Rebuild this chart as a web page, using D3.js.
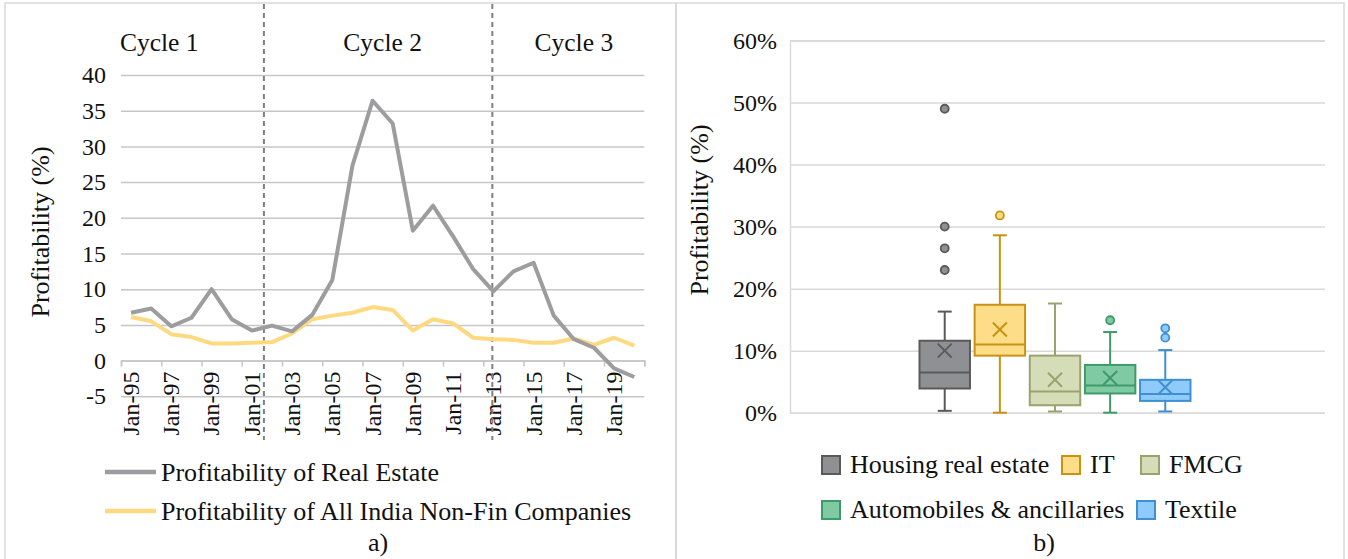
<html>
<head>
<script src="https://cdn.jsdelivr.net/npm/d3@7"></script>
</head>
<body style="margin:0">
<svg id="chart" width="1348" height="559"></svg>
<script>
// ---- data: panel a) line chart ----
const years = [1995,1996,1997,1998,1999,2000,2001,2002,2003,2004,2005,2006,2007,
               2008,2009,2010,2011,2012,2013,2014,2015,2016,2017,2018,2019,2020]
const realEstate = [6.7,7.3,4.8,6.0,10.0,5.8,4.2,4.9,4.1,6.4,11.3,27.3,36.4,
                    33.2,18.2,21.7,17.4,12.8,9.7,12.5,13.7,6.3,3.0,1.8,-1.1,-2.3]
const nonFin = [6.1,5.5,3.7,3.3,2.4,2.4,2.5,2.6,3.8,5.8,6.3,6.7,7.5,
                7.1,4.2,5.8,5.2,3.2,3.0,2.9,2.5,2.5,3.1,2.2,3.2,2.1]
const lineNames = ["Profitability of Real Estate", "Profitability of All India Non-Fin Companies"]
const yTicksA = [-5,0,5,10,15,20,25,30,35,40]
const cycleNames = ["Cycle 1", "Cycle 2", "Cycle 3"]
const cycleLabelAt = [1996.4, 2007.5, 2017.0]
const cycleBreaks = [2001.6, 2012.95]

// ---- data: panel b) box plot ----
const sectors = ["Housing real estate", "IT", "FMCG", "Automobiles & ancillaries", "Textile"]
const whiskerLow  = [0.003, 0.000, 0.002, 0.000, 0.002]
const q1          = [0.039, 0.092, 0.012, 0.031, 0.019]
const median      = [0.065, 0.110, 0.034, 0.044, 0.030]
const q3          = [0.116, 0.174, 0.092, 0.077, 0.053]
const whiskerHigh = [0.163, 0.286, 0.176, 0.130, 0.101]
const means       = [0.100, 0.134, 0.053, 0.056, 0.041]
const outliers    = [[0.490, 0.300, 0.265, 0.230], [0.318], [], [0.149], [0.136, 0.121]]
const yTicksB = [0, 0.1, 0.2, 0.3, 0.4, 0.5, 0.6]

const FILL   = ["#8f9094", "#fedd89", "#d5dcb8", "#7fcaa2", "#8ecbfa"]
const STROKE = ["#5a5a5a", "#c99212", "#9ba26d", "#3f9a6b", "#3f90d2"]
const LINE_COLORS = ["#9d9d9f", "#ffd97f"]

const svg = d3.select("#chart")

// serif face + size for a text selection
function serif(sel, size){
    sel.style("font-family", '"Liberation Serif"').style("font-size", size + "px").attr("fill", "#111")
}

// frame
svg.append("rect").attr("x", 5).attr("y", 3).attr("width", 1339).attr("height", 570)
   .attr("fill", "#fff").attr("stroke", "#d9d9d9").attr("stroke-width", 1.5)
svg.append("line").attr("x1", 676).attr("x2", 676).attr("y1", 3).attr("y2", 559)
   .attr("stroke", "#d9d9d9").attr("stroke-width", 2)

//------------------------------------------------------------
// panel a) line chart
//------------------------------------------------------------
function drawLineChart(){
    const left = 121, right = 644.3, top = 75, bottom = 396.3
    const gA = svg.append("g")

    const x = d3.scaleBand().domain(years).range([left, right])
    const xc = d => x(d) + x.bandwidth() / 2
    const xYear = d3.scaleLinear().domain([years[0], years[years.length - 1]])
                    .range([xc(years[0]), xc(years[years.length - 1])])
    const xBound = d3.scaleLinear().domain([0, years.length]).range([left, right])
    const y = d3.scaleLinear().domain([-5, 40]).range([bottom, top])

    // gridlines + y labels
    const yAxis = gA.append("g").attr("transform", `translate(${left},0)`)
        .call(d3.axisLeft(y).tickValues(yTicksA).tickSize(-(right - left))
                .tickPadding(15).tickFormat(d => String(d)))
    yAxis.select(".domain").remove()
    yAxis.selectAll("line").attr("stroke", "#c6c6c6").attr("stroke-width", 1.5)
    yAxis.selectAll("text").call(serif, 24)

    // x axis at zero: tick marks between every two categories
    const xTicks = gA.append("g").attr("transform", `translate(0,${y(0)})`)
        .call(d3.axisBottom(xBound).tickValues(d3.range(0, years.length + 1, 2))
                .tickSize(6).tickFormat(""))
    xTicks.select(".domain").attr("stroke", "#c6c6c6").attr("stroke-width", 1.5)
    xTicks.selectAll("line").attr("stroke", "#c6c6c6").attr("stroke-width", 1.5)

    const xLabels = gA.append("g").attr("transform", `translate(0,${y(0)})`)
        .call(d3.axisBottom(x).tickValues(years.filter((d, i) => i % 2 === 0))
                .tickSize(0).tickFormat(d => "Jan-" + String(d).slice(2)))
    xLabels.select(".domain").remove()
    xLabels.selectAll("text")
        .call(serif, 24)
        .attr("transform", "rotate(-90)")
        .attr("text-anchor", "end")
        .attr("x", -11).attr("y", 0).attr("dy", "0.33em")

    // cycle separators
    gA.selectAll(".cycle-sep").data(cycleBreaks).enter().append("line")
        .attr("x1", d => xYear(d)).attr("x2", d => xYear(d))
        .attr("y1", 4).attr("y2", 440)
        .attr("stroke", "#7f7f7f").attr("stroke-width", 2).attr("stroke-dasharray", "5,4")
    gA.selectAll(".cycle-lab").data(cycleNames).enter().append("text")
        .call(serif, 25.5)
        .attr("x", (d, i) => xYear(cycleLabelAt[i])).attr("y", 51)
        .attr("text-anchor", "middle")
        .text(d => d)

    // lines
    const series = [realEstate, nonFin]
    const line = d3.line().x((d, i) => xc(years[i])).y(d => y(d))
    gA.selectAll(".series").data(series.slice().reverse()).enter().append("path")
        .attr("d", line)
        .attr("fill", "none")
        .attr("stroke", (d, i) => LINE_COLORS[1 - i])
        .attr("stroke-width", 4)
        .attr("stroke-linejoin", "round")

    // y title
    svg.append("text").call(serif, 26)
        .attr("transform", "translate(49,232) rotate(-90)")
        .attr("text-anchor", "middle")
        .text("Profitability (%)")

    // legend
    lineNames.forEach((name, i) => {
        svg.append("line").attr("x1", 105).attr("x2", 156)
            .attr("y1", 472 + i * 39).attr("y2", 472 + i * 39)
            .attr("stroke", LINE_COLORS[i]).attr("stroke-width", 4.5)
        svg.append("text").call(serif, 26)
            .attr("x", 161).attr("y", 481 + i * 39)
            .text(name)
    })

    svg.append("text").call(serif, 26)
        .attr("x", 378).attr("y", 551).attr("text-anchor", "middle").text("a)")
}

//------------------------------------------------------------
// panel b) box and whisker chart
//------------------------------------------------------------
function drawBoxChart(){
    const left = 790, right = 1325, top = 40.5, bottom = 412.7
    const gB = svg.append("g")

    const y = d3.scaleLinear().domain([0, 0.6]).range([bottom, top])
    const mid = (left + right) / 2
    const x = d3.scaleBand().domain(sectors).range([mid - 138, mid + 133]).paddingInner(0.085)

    const yAxis = gB.append("g").attr("transform", `translate(${left},0)`)
        .call(d3.axisLeft(y).tickValues(yTicksB).tickSize(-(right - left))
                .tickPadding(13).tickFormat(d3.format(".0%")))
    yAxis.select(".domain").attr("stroke", "#d9d9d9").attr("stroke-width", 1.5)
    yAxis.selectAll("line").attr("stroke", "#d9d9d9").attr("stroke-width", 1.5)
    yAxis.selectAll("text").call(serif, 24)

    const bw = x.bandwidth()
    const cap = 14
    const boxes = gB.selectAll(".box").data(sectors).enter().append("g")
        .attr("transform", d => `translate(${x(d)},0)`)

    // whiskers
    boxes.append("line").attr("x1", bw / 2).attr("x2", bw / 2)
        .attr("y1", (d, i) => y(whiskerHigh[i])).attr("y2", (d, i) => y(q3[i]))
        .attr("stroke", (d, i) => STROKE[i]).attr("stroke-width", 2)
    boxes.append("line").attr("x1", bw / 2).attr("x2", bw / 2)
        .attr("y1", (d, i) => y(q1[i])).attr("y2", (d, i) => y(whiskerLow[i]))
        .attr("stroke", (d, i) => STROKE[i]).attr("stroke-width", 2)
    boxes.append("line").attr("x1", bw / 2 - cap / 2).attr("x2", bw / 2 + cap / 2)
        .attr("y1", (d, i) => y(whiskerHigh[i])).attr("y2", (d, i) => y(whiskerHigh[i]))
        .attr("stroke", (d, i) => STROKE[i]).attr("stroke-width", 2)
    boxes.append("line").attr("x1", bw / 2 - cap / 2).attr("x2", bw / 2 + cap / 2)
        .attr("y1", (d, i) => y(whiskerLow[i])).attr("y2", (d, i) => y(whiskerLow[i]))
        .attr("stroke", (d, i) => STROKE[i]).attr("stroke-width", 2)

    // box
    boxes.append("rect").attr("x", 0).attr("width", bw)
        .attr("y", (d, i) => y(q3[i])).attr("height", (d, i) => y(q1[i]) - y(q3[i]))
        .attr("fill", (d, i) => FILL[i]).attr("stroke", (d, i) => STROKE[i]).attr("stroke-width", 2)
    boxes.append("line").attr("x1", 0).attr("x2", bw)
        .attr("y1", (d, i) => y(median[i])).attr("y2", (d, i) => y(median[i]))
        .attr("stroke", (d, i) => STROKE[i]).attr("stroke-width", 2)

    // mean marker (x)
    const m = 7
    boxes.append("path")
        .attr("d", (d, i) => {
            const cy = y(means[i]), cx = bw / 2
            return `M${cx - m},${cy - m}L${cx + m},${cy + m}M${cx - m},${cy + m}L${cx + m},${cy - m}`
        })
        .attr("fill", "none").attr("stroke", (d, i) => STROKE[i]).attr("stroke-width", 2)

    // outliers
    boxes.each(function(d, i){
        d3.select(this).selectAll("circle").data(outliers[i]).enter().append("circle")
            .attr("cx", bw / 2).attr("cy", v => y(v)).attr("r", 4)
            .attr("fill", FILL[i]).attr("stroke", STROKE[i]).attr("stroke-width", 1.8)
    })

    // y title
    svg.append("text").call(serif, 26)
        .attr("transform", "translate(708,210) rotate(-90)")
        .attr("text-anchor", "middle")
        .text("Profitability (%)")

    // legend
    const legPos = [[822, 465], [1062, 465], [1141, 465], [822, 510], [1137, 510]]
    sectors.forEach((name, i) => {
        svg.append("rect").attr("x", legPos[i][0]).attr("y", legPos[i][1] - 9)
            .attr("width", 18).attr("height", 18)
            .attr("fill", FILL[i]).attr("stroke", STROKE[i]).attr("stroke-width", 2)
        svg.append("text").call(serif, 26)
            .attr("x", legPos[i][0] + 28).attr("y", legPos[i][1] + 8)
            .text(name)
    })

    svg.append("text").call(serif, 26)
        .attr("x", 1044).attr("y", 551).attr("text-anchor", "middle").text("b)")
}

drawLineChart()
drawBoxChart()
</script>
</body>
</html>
